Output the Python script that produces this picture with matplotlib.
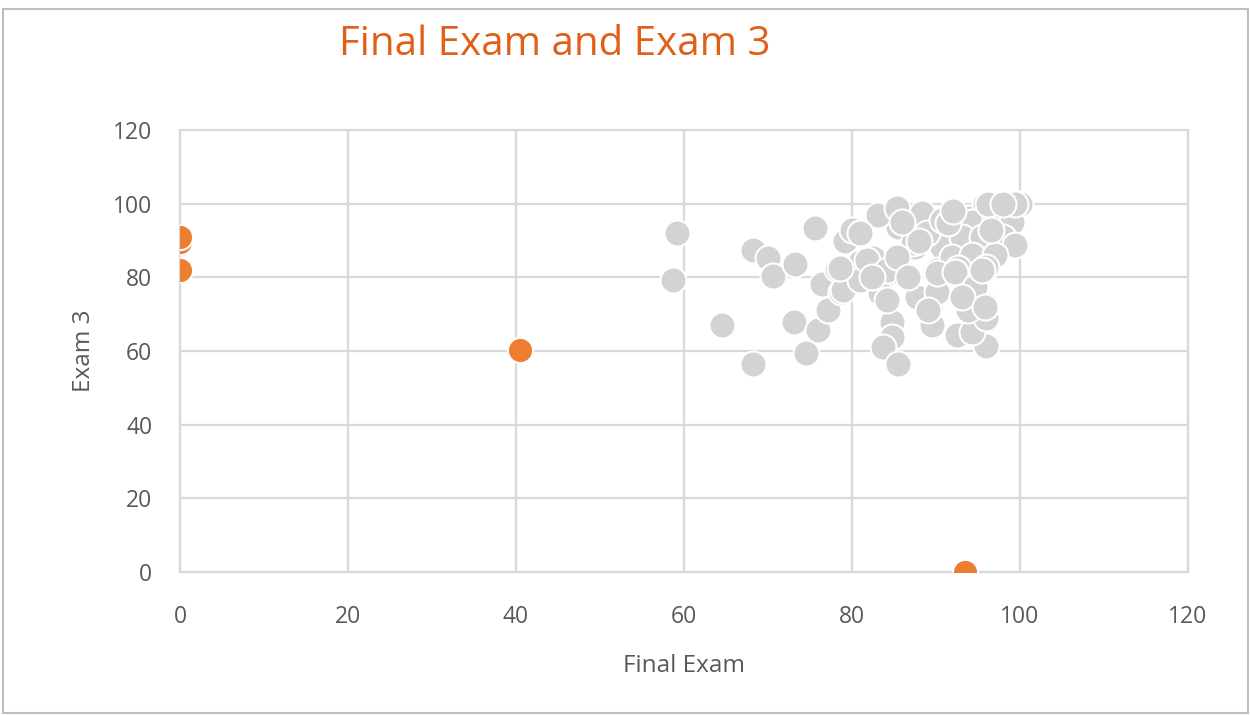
import matplotlib
matplotlib.use('Agg')
from matplotlib import pyplot as plt
from matplotlib.patches import Rectangle

# gray points (Final Exam, Exam 3)
final_exam = [59.2, 58.7, 64.5, 68.2, 68.2, 70.0, 70.6, 73.2, 73.1, 74.5,
              76.0, 75.6, 76.4, 77.1, 78.7, 78.2, 79.2, 80.0, 81.0, 78.9,
              84.8, 84.8, 83.7, 85.5, 89.5, 92.5, 96.0, 94.3, 95.9, 96.0,
              93.8, 89.3, 87.7, 90.1, 94.4, 89.9, 92.3, 95.8, 86.7, 84.5,
              83.3, 83.3, 81.0, 78.6, 82.5, 87.5, 90.7, 85.5, 83.1, 85.4,
              88.3, 91.3, 94.0, 97.3, 99.2, 98.5, 100.0, 95.8, 93.1, 87.3,
              97.6, 92.5, 98.0, 88.9, 90.7, 81.0, 81.8, 84.2, 90.1, 85.4,
              94.3, 97.0, 99.0, 96.2, 99.4, 98.0, 93.1, 95.5, 98.0, 99.4,
              91.9, 94.3, 97.0, 92.6, 96.0, 91.4, 82.4, 84.2, 86.7, 89.0,
              90.1, 92.3, 94.6, 93.1, 95.8, 95.5, 88.0, 92.0, 96.5, 86.0]
exam3 = [92.0, 79.3, 67.1, 56.5, 87.4, 85.3, 80.4, 83.6, 67.9, 59.5,
         65.7, 93.4, 78.2, 71.1, 76.0, 82.3, 89.9, 92.9, 84.2, 76.6,
         67.9, 63.8, 61.1, 56.5, 67.1, 64.3, 61.4, 65.2, 69.0, 72.5,
         71.1, 71.7, 74.7, 76.0, 76.6, 82.0, 83.9, 83.4, 80.6, 81.5,
         78.5, 75.8, 79.3, 82.5, 85.3, 88.2, 88.2, 93.7, 96.9, 98.8,
         97.5, 95.8, 96.1, 97.7, 94.7, 100.0, 100.0, 100.0, 92.0, 89.3,
         88.2, 85.3, 91.0, 92.0, 95.6, 92.0, 84.7, 82.0, 82.0, 85.5,
         95.0, 96.1, 95.0, 100.0, 100.0, 100.0, 91.0, 91.0, 91.0, 88.8,
         85.5, 86.0, 86.0, 82.5, 82.8, 94.8, 80.1, 73.9, 80.1, 71.1,
         81.2, 81.5, 77.4, 74.7, 72.0, 82.0, 90.0, 98.0, 93.0, 95.0]

# orange points
final_out = [0, 0, 0, 40.5, 93.5]
exam3_out = [89.5, 91.0, 82.0, 60.3, 0]

fig = plt.figure(figsize=(12.5, 7.15), dpi=100)
ax = fig.add_axes([0.144, 0.2, 0.8064, 0.618])

ax.scatter(final_exam, exam3, s=350, color='#D3D3D3', edgecolors='white',
           linewidths=1.5, zorder=3)
ax.scatter(final_out, exam3_out, s=330, color='#ED7D31', edgecolors='white',
           linewidths=1.5, zorder=4)

ax.set_xlim(0, 120)
ax.set_ylim(0, 120)
ax.set_xticks(range(0, 121, 20))
ax.set_yticks(range(0, 121, 20))
ax.grid(True, color='#D9D9D9', linewidth=1.6, zorder=0)
ax.set_axisbelow(True)
for s in ax.spines.values():
    s.set_color('#D9D9D9')
    s.set_linewidth(1.6)
ax.tick_params(length=0, labelsize=16.5, colors='#595959')
ax.tick_params(axis='x', pad=24)
ax.tick_params(axis='y', pad=20)
for lab in ax.get_xticklabels() + ax.get_yticklabels():
    lab.set_family('Open Sans')

ax.set_xlabel('Final Exam', fontsize=17.5, color='#595959', family='Open Sans', labelpad=18)
ax.set_ylabel('Exam 3', fontsize=17.5, color='#595959', family='Open Sans', labelpad=12)

fig.text(0.444, 0.937, 'Final Exam and Exam 3', fontsize=29, color='#E0601A',
         family='Open Sans', ha='center', va='center')

fig.patches.append(Rectangle((0.002, 0.003), 0.996, 0.985, transform=fig.transFigure,
                             fill=False, edgecolor='#BFBFBF', linewidth=1.5))

plt.savefig('out.png', dpi=100)
